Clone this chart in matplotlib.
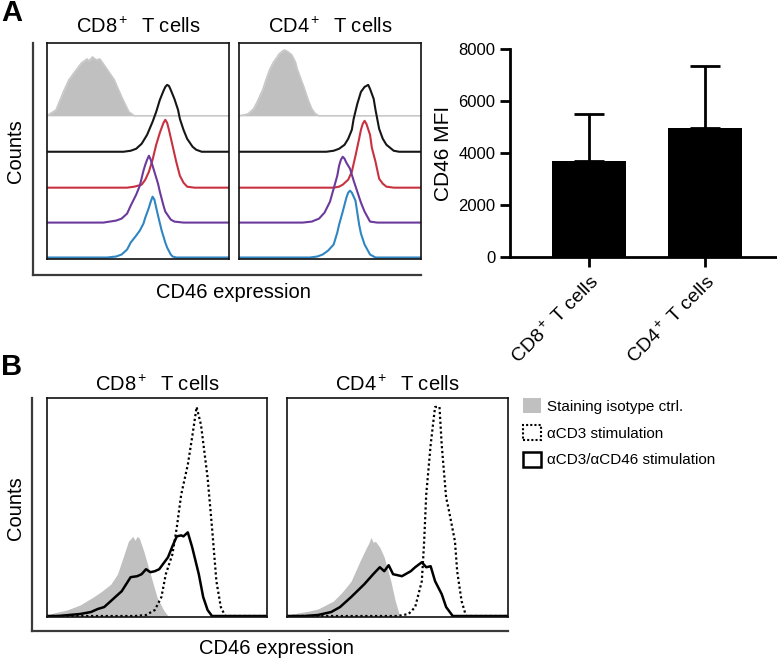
import matplotlib
matplotlib.use("Agg")
import matplotlib.pyplot as plt
from matplotlib.patches import Patch

plt.rcParams['font.family'] = ['Liberation Sans', 'DejaVu Sans']
plt.rcParams['mathtext.fontset'] = 'custom'
plt.rcParams['mathtext.rm'] = 'Liberation Sans'
plt.rcParams['mathtext.it'] = 'Liberation Sans:italic'
plt.rcParams['mathtext.bf'] = 'Liberation Sans:bold'

W, H = 777, 660

# ---------------- Data ----------------
panel_titles = ["CD8$^+$  T cells", "CD4$^+$  T cells"]

# Panel A: stacked histograms (x: % of channel range, y: counts in lane units)
A_CD8_iso_x = [0, 5, 9, 12, 16, 19, 22, 23, 25, 27, 29, 31, 34, 37, 41, 45, 48, 100]
A_CD8_iso_y = [0, 6, 24, 36, 46, 53, 57, 55, 59, 56, 57, 52, 44, 36, 19, 4, 0, 0]
A_CD8_blk_x = [0, 42, 46, 49, 52, 55, 58, 60, 62, 64, 65, 66, 67, 68, 70, 72, 73, 75, 77, 80, 82, 85, 100]
A_CD8_blk_y = [0, 0, 1, 3, 8, 17, 30, 40, 52, 61, 65, 67, 66, 62, 53, 42, 33, 22, 13, 5, 2, 0, 0]
A_CD8_red_x = [0, 44, 48, 52, 54, 56, 58, 60, 62, 63, 64, 65, 66, 67, 69, 71, 73, 75, 77, 81, 100]
A_CD8_red_y = [0, 0, 1, 3, 8, 16, 28, 43, 55, 60, 65, 68, 65, 58, 42, 26, 12, 5, 1, 0, 0]
A_CD8_pur_x = [0, 31, 38, 41, 44, 46, 49, 51, 53, 54, 55, 56, 57, 58, 59, 61, 62, 64, 65, 68, 70, 75, 100]
A_CD8_pur_y = [0, 0, 2, 4, 9, 17, 28, 37, 52, 58, 63, 67, 63, 57, 51, 39, 31, 17, 11, 3, 1, 0, 0]
A_CD8_blu_x = [0, 33, 38, 41, 44, 46, 49, 51, 53, 54, 56, 57, 58, 59, 60, 61, 63, 65, 66, 68, 69, 71, 100]
A_CD8_blu_y = [0, 0, 1, 3, 8, 15, 22, 27, 34, 40, 50, 56, 61, 58, 50, 42, 27, 15, 10, 3, 1, 0, 0]

A_CD4_iso_x = [0, 3, 5, 8, 10, 13, 15, 17, 19, 21, 22, 24, 25, 27, 29, 31, 32, 34, 36, 38, 40, 42, 44, 100]
A_CD4_iso_y = [0, 1, 2, 7, 14, 26, 37, 47, 54, 59, 62, 65, 66, 64, 61, 54, 47, 37, 27, 16, 7, 2, 0, 0]
A_CD4_blk_x = [0, 48, 52, 55, 58, 60, 62, 63, 65, 67, 69, 70, 71, 72, 74, 75, 77, 79, 81, 85, 88, 100]
A_CD4_blk_y = [0, 0, 1, 3, 7, 13, 22, 33, 48, 60, 65, 66, 67, 63, 53, 42, 23, 13, 7, 1, 0, 0]
A_CD4_red_x = [0, 52, 55, 57, 60, 62, 64, 66, 67, 68, 69, 70, 72, 73, 75, 77, 79, 81, 85, 100]
A_CD4_red_y = [0, 0, 1, 3, 8, 16, 32, 49, 58, 64, 67, 64, 53, 40, 26, 9, 4, 1, 0, 0]
A_CD4_pur_x = [0, 35, 40, 44, 47, 50, 52, 54, 55, 56, 57, 58, 59, 61, 63, 65, 67, 69, 72, 76, 100]
A_CD4_pur_y = [0, 0, 1, 4, 10, 21, 34, 47, 57, 63, 66, 64, 60, 54, 42, 31, 20, 11, 1, 0, 0]
A_CD4_blu_x = [0, 39, 43, 46, 49, 52, 54, 55, 57, 58, 59, 60, 61, 62, 64, 66, 67, 69, 72, 75, 100]
A_CD4_blu_y = [0, 0, 1, 3, 7, 13, 25, 33, 46, 53, 60, 65, 67, 65, 57, 33, 24, 13, 3, 0, 0]

# Bar chart
bar_labels = ["CD8$^+$ T cells", "CD4$^+$ T cells"]
bar_means = [3700, 4950]
bar_sd = [1800, 2400]

# Panel B histograms
B_CD8_iso_x = [0, 3, 9, 15, 21, 25, 29, 32, 34, 37, 39, 40, 41, 42, 44, 47, 50, 53, 55, 100]
B_CD8_iso_y = [1, 3, 6, 11, 19, 25, 32, 42, 55, 75, 80, 76, 80, 78, 65, 42, 19, 6, 0, 0]
B_CD8_cd3_x = [0, 40, 45, 49, 52, 54, 57, 59, 61, 64, 66, 68, 70, 73, 75, 77, 79, 81, 100]
B_CD8_cd3_y = [0, 0, 1, 6, 19, 42, 62, 89, 122, 152, 180, 210, 192, 139, 89, 35, 9, 0, 0]
B_CD8_cd46_x = [0, 5, 10, 15, 20, 23, 26, 29, 34, 38, 41, 43, 45, 47, 49, 51, 55, 57, 59,
                61, 62, 64, 66, 69, 71, 73, 75, 100]
B_CD8_cd46_y = [0, 0, 1, 2, 4, 7, 9, 15, 25, 39, 40, 42, 47, 44, 45, 47, 59, 70, 80,
                81, 80, 84, 69, 42, 19, 6, 0, 0]

B_CD4_iso_x = [0, 5, 10, 14, 21, 25, 29, 33, 36, 37, 38, 39, 40, 42, 44, 47, 49, 51, 100]
B_CD4_iso_y = [1, 3, 5, 7, 15, 24, 35, 55, 69, 73, 79, 74, 75, 69, 59, 35, 15, 0, 0]
B_CD4_cd3_x = [0, 50, 55, 58, 61, 62, 63, 65, 67, 69, 70, 72, 73, 76, 77, 79, 81, 100]
B_CD4_cd3_y = [0, 0, 2, 9, 35, 72, 122, 172, 210, 210, 172, 119, 109, 75, 45, 15, 0, 0]
B_CD4_cd46_x = [0, 8, 14, 20, 24, 29, 35, 39, 42, 44, 46, 48, 52, 56, 58, 61, 63, 65, 67,
                70, 72, 75, 100]
B_CD4_cd46_y = [0, 0, 1, 4, 9, 19, 32, 42, 49, 45, 51, 42, 40, 45, 49, 54, 49, 50, 35,
                22, 9, 0, 0]

legend_labels = ["Staining isotype ctrl.", "\u03b1CD3 stimulation", "\u03b1CD3/\u03b1CD46 stimulation"]

# ---------------- Styles ----------------
ISO_FILL = '#c0c0c0'
ISO_LINE = '#c8c8c8'
C_BLK = '#161616'
C_RED = '#c8313f'
C_PUR = '#6b3a9c'
C_BLU = '#2f86c2'
LANE_OFFSETS = [142, 106, 70, 35, 0]
FS = 14.5

fig = plt.figure(figsize=(W / 100, H / 100), dpi=100)
fig.patch.set_facecolor('white')


def px_axes(x0, y0, x1, y1, **kw):
    return fig.add_axes([x0 / W, 1 - y1 / H, (x1 - x0) / W, (y1 - y0) / H], **kw)


def outer_L(x0, y0, x1, y1):
    ax = px_axes(x0, y0, x1, y1)
    ax.set_facecolor('none')
    for s in ['top', 'right']:
        ax.spines[s].set_visible(False)
    for s in ['left', 'bottom']:
        ax.spines[s].set_linewidth(1.6)
        ax.spines[s].set_color('#3a3a3a')
    ax.set_xticks([])
    ax.set_yticks([])
    return ax


def box_axes(x0, y0, x1, y1):
    ax = px_axes(x0, y0, x1, y1)
    ax.set_xticks([])
    ax.set_yticks([])
    for s in ax.spines.values():
        s.set_linewidth(1.2)
        s.set_color('#111111')
    ax.set_xlim(0, 100)
    return ax


# ---------------- Panel A ----------------
outer_L(33, 43, 421, 275)
A_sets = [
    [(A_CD8_iso_x, A_CD8_iso_y), (A_CD8_blk_x, A_CD8_blk_y), (A_CD8_red_x, A_CD8_red_y),
     (A_CD8_pur_x, A_CD8_pur_y), (A_CD8_blu_x, A_CD8_blu_y)],
    [(A_CD4_iso_x, A_CD4_iso_y), (A_CD4_blk_x, A_CD4_blk_y), (A_CD4_red_x, A_CD4_red_y),
     (A_CD4_pur_x, A_CD4_pur_y), (A_CD4_blu_x, A_CD4_blu_y)],
]
A_boxes = [(47, 43, 229, 259), (239, 43, 421, 259)]
for (bx0, by0, bx1, by1), curves, title in zip(A_boxes, A_sets, panel_titles):
    ax = box_axes(bx0, by0, bx1, by1)
    ax.set_ylim(-1.5, 215)
    (ix, iy) = curves[0]
    off = LANE_OFFSETS[0]
    ax.fill_between(ix, [off] * len(iy), [off + v for v in iy], color=ISO_FILL, lw=0)
    ax.plot(ix, [off + v for v in iy], color=ISO_LINE, lw=1.2)
    for (cx, cy), off, col in zip(curves[1:], LANE_OFFSETS[1:], [C_BLK, C_RED, C_PUR, C_BLU]):
        ax.plot(cx, [off + v for v in cy], color=col, lw=1.5)
    fig.text((bx0 + bx1) / 2 / W, 1 - 27 / H, title, ha='center', va='center', fontsize=FS)

fig.text(1 / W, 1 - 13 / H, "A", fontsize=21, fontweight='bold', ha='left', va='center')
fig.text(15 / W, 1 - 151 / H, "Counts", rotation=90, fontsize=FS, ha='center', va='center')
fig.text(233 / W, 1 - 292 / H, "CD46 expression", fontsize=FS, ha='center', va='center')

# ---------------- Bar chart ----------------
axb = px_axes(510, 49, 777, 257)
x = list(range(len(bar_means)))
axb.bar(x, bar_means, width=0.63, color='black', zorder=2)
axb.errorbar(x, bar_means, yerr=[[0] * len(bar_sd), bar_sd], fmt='none', ecolor='black',
             elinewidth=2, capsize=10.5, capthick=2, zorder=1)
axb.set_xlim(-0.68, 1.62)
axb.set_ylim(0, 8000)
axb.set_yticks([0, 2000, 4000, 6000, 8000])
axb.set_xticks(x)
axb.set_xticklabels(bar_labels, rotation=45, ha='right', va='top', rotation_mode='anchor',
                    fontsize=14)
axb.tick_params(axis='both', width=2, length=7, labelsize=12)
axb.tick_params(axis='x', pad=4, labelsize=14)
for s in ['top', 'right']:
    axb.spines[s].set_visible(False)
for s in ['left', 'bottom']:
    axb.spines[s].set_linewidth(2)
axb.set_ylabel("CD46 MFI", fontsize=15, labelpad=4)

# ---------------- Panel B ----------------
outer_L(32, 398, 508, 631)
B_sets = [
    [(B_CD8_iso_x, B_CD8_iso_y), (B_CD8_cd3_x, B_CD8_cd3_y), (B_CD8_cd46_x, B_CD8_cd46_y)],
    [(B_CD4_iso_x, B_CD4_iso_y), (B_CD4_cd3_x, B_CD4_cd3_y), (B_CD4_cd46_x, B_CD4_cd46_y)],
]
B_boxes = [(47, 398, 267, 617), (287, 398, 508, 617)]
for (bx0, by0, bx1, by1), curves, title in zip(B_boxes, B_sets, panel_titles):
    ax = box_axes(bx0, by0, bx1, by1)
    ax.set_ylim(-1, 219)
    (ix, iy), (dx, dy), (sx, sy) = curves
    ax.fill_between(ix, 0, iy, color=ISO_FILL, lw=0)
    ax.plot(dx, dy, color='black', lw=1.6, ls=(0, (1, 1.2)))
    ax.plot(sx, sy, color='black', lw=1.8)
    fig.text((bx0 + bx1) / 2 / W, 1 - 385 / H, title, ha='center', va='center', fontsize=FS)

fig.text(1 / W, 1 - 367 / H, "B", fontsize=21, fontweight='bold', ha='left', va='center')
fig.text(15 / W, 1 - 508 / H, "Counts", rotation=90, fontsize=FS, ha='center', va='center')
fig.text(276 / W, 1 - 648 / H, "CD46 expression", fontsize=FS, ha='center', va='center')

handles = [
    Patch(facecolor=ISO_FILL, edgecolor='none'),
    Patch(facecolor='white', edgecolor='black', linestyle=(0, (1, 1)), linewidth=1.5),
    Patch(facecolor='white', edgecolor='black', linewidth=1.8),
]
fig.legend(handles, legend_labels, loc='upper left', bbox_to_anchor=(523 / W, 1 - 398 / H),
           frameon=False, fontsize=11, handlelength=1.2, handleheight=1.15,
           handletextpad=0.4, labelspacing=0.72, borderpad=0, borderaxespad=0)

fig.savefig("out.png", dpi=100, facecolor='white')
